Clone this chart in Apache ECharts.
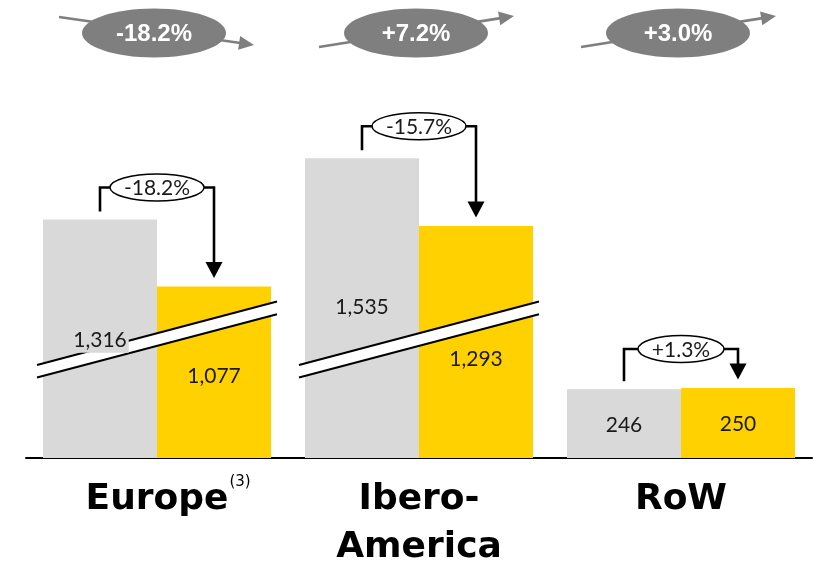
<!DOCTYPE html>
<html>
<head>
<meta charset="utf-8">
<script src="https://cdn.jsdelivr.net/npm/echarts@6/dist/echarts.min.js"></script>
<style>
  html, body { margin: 0; padding: 0; background: #ffffff; }
  #chart { width: 813px; height: 569px; }
</style>
</head>
<body>
<div id="chart"></div>
<script>
// Sales by region: prior year (grey) vs current year (gold)
const regions = ['Europe', 'Ibero-\nAmerica', 'RoW'];
const priorYear = [1316, 1535, 246];
const currentYear = [1077, 1293, 250];
const changeReported = ['-18.2%', '-15.7%', '+1.3%'];
const changeHeadline = ['-18.2%', '+7.2%', '+3.0%'];
const regionNotes = ['(3)', '', ''];

const GRAY = '#D9D9D9';
const GOLD = '#FFD100';
const BADGE = '#7F7F7F';
const INK = '#000000';

// broken value axis: the range between start and end is squeezed into a small gap
const AXIS_BREAK = { start: 400, end: 910, gap: 46 };

const fmt = v => String(v).replace(/\B(?=(\d{3})+(?!\d))/g, ',');

const chart = echarts.init(document.getElementById('chart'), null, { renderer: 'canvas' });

// label nudges (px) for the value labels of each bar
const priorLabelShift = [1, -1, 1.5];
const currentLabelShift = [4, 17, 1];

const barBase = { type: 'bar', barWidth: 114, barGap: '0%', silent: true, animation: false };
const valueLabel = (bg) => ({
  show: true,
  position: 'inside',
  formatter: p => fmt(p.value),
  fontFamily: 'Lato',
  fontSize: 21,
  color: '#1a1a1a',
  backgroundColor: bg,
  padding: [2, 2, 3, 2]
});

chart.setOption({
  animation: false,
  grid: { left: 26, right: 1, top: 56, bottom: 111, containLabel: false, outerBoundsMode: 'none' },
  xAxis: [
    {
      type: 'category',
      data: regions,
      axisTick: { show: false },
      axisLine: { lineStyle: { color: INK, width: 2 } },
      axisLabel: {
        interval: 0,
        margin: 18,
        color: INK,
        fontFamily: 'DejaVu Sans',
        fontWeight: 'bold',
        fontSize: 36,
        lineHeight: 48
      }
    },
    { type: 'category', data: regions, show: false }
  ],
  yAxis: {
    type: 'value',
    min: 0,
    max: 1900,
    show: false,
    splitLine: { show: false },
    breaks: [AXIS_BREAK],
    breakArea: { show: false }
  },
  series: [
    { ...barBase, name: 'Prior year', data: priorYear, itemStyle: { color: GRAY }, z: 2 },
    { ...barBase, name: 'Current year', data: currentYear, itemStyle: { color: GOLD }, z: 2 },
    // value labels sit on their own layer above the break stripes
    {
      ...barBase, name: 'Prior year labels', xAxisIndex: 1, z: 5,
      data: priorYear.map((v, i) => ({ value: v, label: { offset: [0, priorLabelShift[i]] } })),
      itemStyle: { color: 'rgba(0,0,0,0)' },
      label: valueLabel(GRAY)
    },
    {
      ...barBase, name: 'Current year labels', xAxisIndex: 1, z: 5,
      data: currentYear.map((v, i) => ({ value: v, label: { offset: [0, currentLabelShift[i]] } })),
      itemStyle: { color: 'rgba(0,0,0,0)' },
      label: valueLabel(GOLD)
    }
  ]
});

function barRect(seriesIndex, i) {
  const l = chart.getModel().getSeriesByIndex(seriesIndex).getData().getItemLayout(i);
  const top = Math.min(l.y, l.y + l.height);
  return { cx: l.x + l.width / 2, top: top };
}

function arrowHead(tipX, tipY, fromX, fromY, len, half, color, z) {
  const dx = tipX - fromX, dy = tipY - fromY;
  const d = Math.hypot(dx, dy);
  const ux = dx / d, uy = dy / d;
  const bx = tipX - ux * len, by = tipY - uy * len;
  return {
    type: 'polygon', z: z, silent: true,
    shape: { points: [[tipX, tipY], [bx - uy * half, by + ux * half], [bx + uy * half, by - ux * half]] },
    style: { fill: color }
  };
}

const graphics = [];
const breakLow = chart.convertToPixel({ yAxisIndex: 0 }, AXIS_BREAK.start);
const breakHigh = chart.convertToPixel({ yAxisIndex: 0 }, AXIS_BREAK.end);
const breakMid = (breakLow + breakHigh) / 2;
const bracketLift = [32, 32, 39];

regions.forEach((name, i) => {
  const cx = chart.convertToPixel({ xAxisIndex: 0 }, i);
  const prior = barRect(0, i);
  const curr = barRect(1, i);

  // diagonal break stripe across both bars of the group
  if (Math.max(priorYear[i], currentYear[i]) > AXIS_BREAK.end) {
    const halfLen = 120, rise = 31.7, half = 6.3;
    const x0 = cx - halfLen, x1 = cx + halfLen;
    graphics.push({
      type: 'polygon', z: 3, silent: true,
      shape: { points: [[x0, breakMid + rise - half], [x1, breakMid - rise - half], [x1, breakMid - rise + half], [x0, breakMid + rise + half]] },
      style: { fill: '#ffffff' }
    });
    [-half, half].forEach(o => graphics.push({
      type: 'line', z: 3, silent: true,
      shape: { x1: x0, y1: breakMid + rise + o, x2: x1, y2: breakMid - rise + o },
      style: { stroke: INK, lineWidth: 2 }
    }));
  }

  // bracket with change label pointing from prior to current bar
  const by = Math.min(prior.top, curr.top) - bracketLift[i];
  const tipY = curr.top - 8.5;
  const label = changeReported[i];
  const rx = 23 + 4 * label.length;
  graphics.push({
    type: 'polyline', z: 10, silent: true,
    shape: { points: [[prior.cx, prior.top - 8], [prior.cx, by], [curr.cx, by], [curr.cx, tipY - 14]] },
    style: { stroke: INK, lineWidth: 2.6, fill: null }
  });
  graphics.push({
    type: 'polygon', z: 10, silent: true,
    shape: { points: [[curr.cx - 8.5, tipY - 16], [curr.cx + 8.5, tipY - 16], [curr.cx, tipY]] },
    style: { fill: INK }
  });
  graphics.push({
    type: 'ellipse', z: 11, silent: true,
    shape: { cx: cx, cy: by, rx: rx, ry: 13.5 },
    style: { fill: '#ffffff', stroke: INK, lineWidth: 1.5 }
  });
  graphics.push({
    type: 'text', z: 12, silent: true, x: cx, y: by + 1,
    style: { text: label, fill: '#1a1a1a', font: '21px Lato', align: 'center', verticalAlign: 'middle' }
  });

  // headline change badge with trend arrow
  const bx = cx - 3, bcy = 33;
  const down = changeHeadline[i].charAt(0) === '-';
  const start = down ? [bx - 95, 17] : [bx - 97, 47];
  const tip = down ? [bx + 100, 45] : [bx + 98, 16];
  const dx = tip[0] - start[0], dy = tip[1] - start[1];
  const d = Math.hypot(dx, dy);
  graphics.push({
    type: 'line', z: 10, silent: true,
    shape: { x1: start[0], y1: start[1], x2: tip[0] - dx / d * 12, y2: tip[1] - dy / d * 12 },
    style: { stroke: BADGE, lineWidth: 2.6 }
  });
  graphics.push(arrowHead(tip[0], tip[1], start[0], start[1], 15, 7, BADGE, 10));
  graphics.push({
    type: 'ellipse', z: 11, silent: true,
    shape: { cx: bx, cy: bcy, rx: 72, ry: 24.5 },
    style: { fill: BADGE }
  });
  graphics.push({
    type: 'text', z: 12, silent: true, x: bx, y: bcy + 1,
    style: { text: changeHeadline[i], fill: '#ffffff', font: 'bold 24px "Liberation Sans"', align: 'center', verticalAlign: 'middle' }
  });

  // footnote marker beside the region name
  if (regionNotes[i]) {
    graphics.push({
      type: 'text', z: 12, silent: true, x: cx + 83, y: 482,
      style: { text: regionNotes[i], fill: INK, font: '15px "DejaVu Sans"', align: 'center', verticalAlign: 'middle' }
    });
  }
});

chart.setOption({ graphic: { elements: graphics } });
</script>
</body>
</html>
